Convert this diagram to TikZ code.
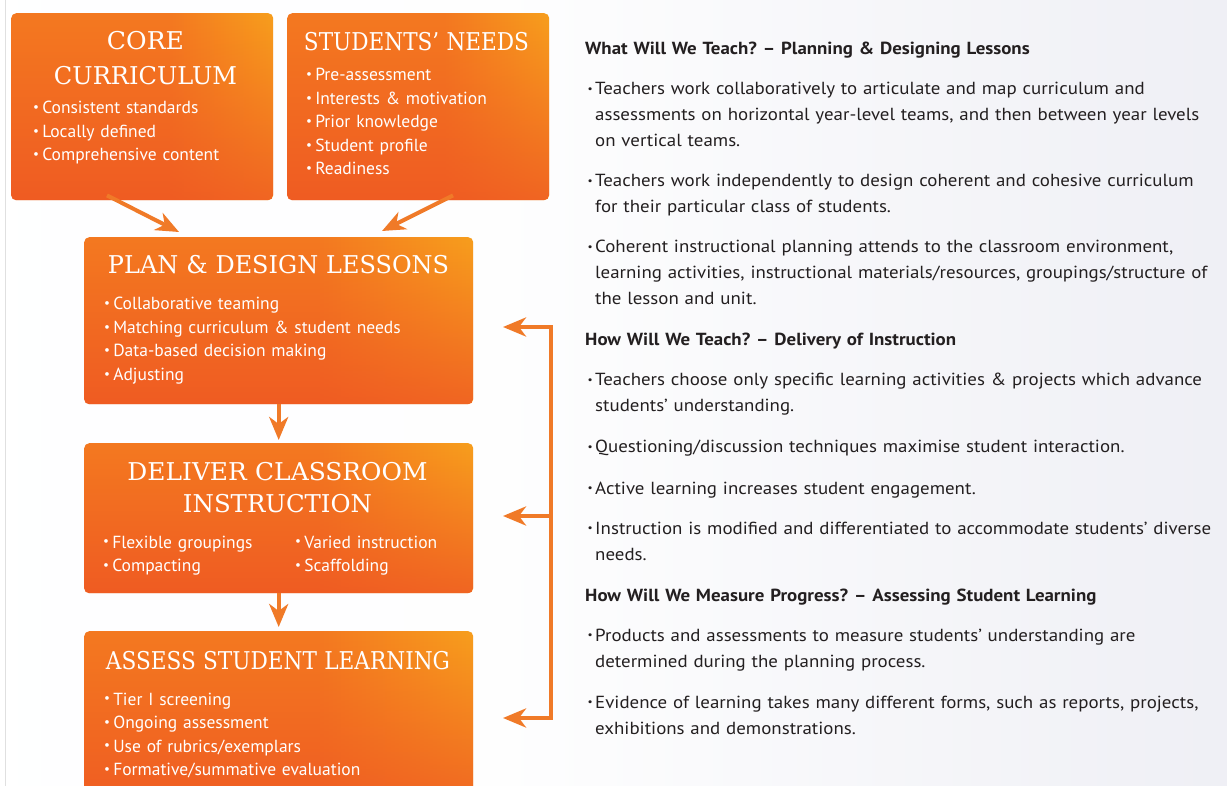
\documentclass[tikz,border=0pt]{standalone}
\usepackage{fontspec}
\usepackage{graphicx}
\setmainfont{PT Sans}
\newfontfamily\titlefont{DejaVu Serif}
\newfontfamily\rfont[FakeStretch=1.08]{PT Sans}
\usetikzlibrary{arrows.meta,fadings}
\definecolor{ob}{HTML}{F47920}
\definecolor{oy}{HTML}{F8A41C}
\definecolor{orr}{HTML}{EE5224}
\definecolor{arr}{HTML}{F07A28}
\definecolor{txt}{HTML}{231F20}
\definecolor{bgr}{HTML}{E2E3ED}
\pgfdeclarehorizontalshading{boxshade}{100bp}{color(0bp)=(ob); color(55bp)=(ob); color(78bp)=(oy); color(88bp)=(oy); color(100bp)=(ob)}
\pgfdeclarehorizontalshading{bgshade}{100bp}{color(0bp)=(white); color(45bp)=(white!97!bgr); color(100bp)=(bgr)}
\tikzfading[name=fadeup, top color=transparent!100, middle color=transparent!100, bottom color=transparent!25]
\newcommand\bu{\raisebox{0.12em}{\scalebox{0.75}{\textbullet}}\hspace{0.18em}}
\newcommand\hb{\llap{\raisebox{0.12em}{\scalebox{0.6}{\textbullet}}\hspace{2.5pt}}}
\newcommand\fitw[2]{\resizebox{#1}{\height}{#2}}
\tikzset{
  obox/.style 2 args={rounded corners=5pt, shade, shading=boxshade, anchor=north west,
    inner sep=0pt, minimum width=#1, minimum height=#2,
    path picture={\fill[orr, path fading=fadeup] (path picture bounding box.south west) rectangle (path picture bounding box.north east);}},
  btitle/.style={font=\titlefont\fontsize{24.5}{34}\selectfont, text=white, align=center,
    anchor=base, inner sep=0pt, text width=420pt},
  btext/.style={font=\fontsize{17.5}{23.5}\selectfont, text=white, align=left,
    anchor=base west, inner sep=0pt, text width=#1},
  rtext/.style={font=\rfont\frenchspacing\fontsize{17.5}{26}\selectfont, text=txt, align=left,
    anchor=base west, inner sep=0pt, text width=640pt},
  rhead/.style={font=\rfont\bfseries\frenchspacing\fontsize{17.5}{26}\selectfont, text=txt, align=left,
    anchor=base west, inner sep=0pt, text width=640pt},
  conn/.style={draw=arr, line width=4pt, line join=miter, -{Stealth[length=23pt,width=19pt,inset=7pt]}}
}
\begin{document}
\begin{tikzpicture}[x=1pt,y=-1pt]
\useasboundingbox (0,0) rectangle (1227,786);
\clip (0,0) rectangle (1227,786);
\shade[shading=bgshade] (0,0) rectangle (1227,786);
\draw[black!12, line width=0.8pt] (5,0) -- (5,786);

% boxes
\node[obox={262pt}{187pt}] (core) at (11,13) {};
\node[obox={262pt}{187pt}] (needs) at (287,13) {};
\node[obox={389pt}{167pt}] (plan) at (84,237) {};
\node[obox={389pt}{150pt}] (deliver) at (84,443) {};
\node[obox={389pt}{180pt}] (assess) at (84,631) {};

% core curriculum
\node[btitle] (coret) at (145.5,49.5) {\fitw{77pt}{CORE}\\[1.5pt]\fitw{183pt}{CURRICULUM}};
\node[btext=235pt] (coreb) at (33,114) {\bu Consistent standards\\\bu Locally defined\\\bu Comprehensive content};

% students' needs
\node[btitle] (needst) at (416.5,51) {\fitw{225pt}{STUDENTS’ NEEDS}};
\node[btext=235pt] (needsb) at (306,81) {\bu Pre-assessment\\\bu Interests \& motivation\\\bu Prior knowledge\\\bu Student profile\\\bu Readiness};

% plan
\node[btitle] (plant) at (278.5,274) {\fitw{341pt}{PLAN \& DESIGN LESSONS}};
\node[btext=360pt] (planb) at (104,310) {\bu Collaborative teaming\\\bu Matching curriculum \& student needs\\\bu Data-based decision making\\\bu Adjusting};

% deliver
\node[btitle] (delt) at (277.5,480) {\fitw{300pt}{DELIVER CLASSROOM}\\[-1.5pt]\fitw{189pt}{INSTRUCTION}};
\node[btext=180pt] (delb1) at (103,548) {\bu Flexible groupings\\\bu Compacting};
\node[btext=180pt] (delb2) at (295,548) {\bu Varied instruction\\\bu Scaffolding};

% assess
\node[btitle] (asst) at (278,669) {\fitw{344pt}{ASSESS STUDENT LEARNING}};
\node[btext=360pt] (assb) at (104,705) {\bu Tier I screening\\\bu Ongoing assessment\\\bu Use of rubrics/exemplars\\\bu Formative/summative evaluation};

% connectors
\draw[conn] ([xshift=96pt,yshift=5pt]core.south west) -- ([xshift=95pt,yshift=5pt]plan.north west);
\draw[conn] ([xshift=166pt,yshift=5pt]needs.south west) -- ([xshift=298pt,yshift=6pt]plan.north west);
\draw[conn] (plan.south) -- ([yshift=3pt]deliver.north);
\draw[conn] (deliver.south) -- ([yshift=4pt]assess.north);

\coordinate (fb1) at (551,327);
\coordinate (fb2) at (551,516);
\coordinate (fb3) at (551,718);
\coordinate (t1) at (503,327);
\coordinate (t2) at (503,516);
\coordinate (t3) at (503,718);
\draw[conn] (fb2) -- (fb1) -- (t1);
\draw[conn] (fb2) -- (fb3) -- (t3);
\draw[conn] (fb2) -- (t2);

% right text
\node[rhead] (h1) at (585,55) {What Will We Teach? – Planning \& Designing Lessons};
\node[rtext] (p1) at (595,95) {\hb Teachers work collaboratively to articulate and map curriculum and\\assessments on horizontal year-level teams, and then between year levels\\on vertical teams.};
\node[rtext] (p2) at (595,187) {\hb Teachers work independently to design coherent and cohesive curriculum\\for their particular class of students.};
\node[rtext] (p3) at (595,253) {\hb Coherent instructional planning attends to the classroom environment,\\learning activities, instructional materials/resources, groupings/structure of\\the lesson and unit.};
\node[rhead] (h2) at (585,346) {How Will We Teach? – Delivery of Instruction};
\node[rtext] (p4) at (595,386) {\hb Teachers choose only specific learning activities \& projects which advance\\students’ understanding.};
\node[rtext] (p5) at (595,453) {\hb Questioning/discussion techniques maximise student interaction.};
\node[rtext] (p6) at (595,494) {\hb Active learning increases student engagement.};
\node[rtext] (p7) at (595,534) {\hb Instruction is modified and differentiated to accommodate students’ diverse\\needs.};
\node[rhead] (h3) at (585,601) {How Will We Measure Progress? – Assessing Student Learning};
\node[rtext] (p8) at (595,641) {\hb Products and assessments to measure students’ understanding are\\determined during the planning process.};
\node[rtext] (p9) at (595,708) {\hb Evidence of learning takes many different forms, such as reports, projects,\\exhibitions and demonstrations.};
\end{tikzpicture}
\end{document}
